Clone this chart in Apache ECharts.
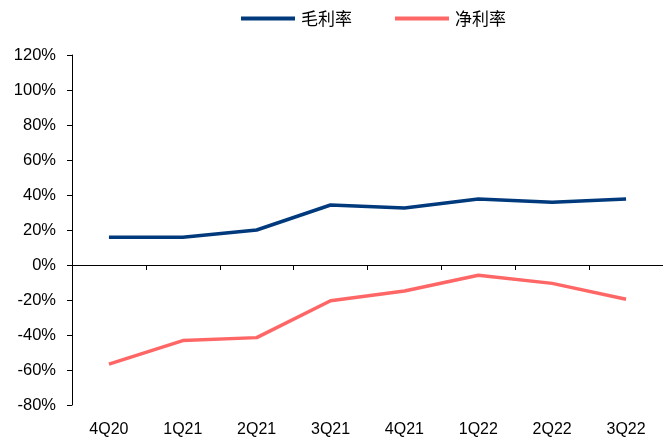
<!DOCTYPE html>
<html><head><meta charset="utf-8">
<script src="https://cdn.jsdelivr.net/npm/echarts@6/dist/echarts.min.js"></script>
<style>html,body{margin:0;padding:0;background:#fff}#c{width:663px;height:441px}</style>
</head><body><div id="c"></div>
<script>
const categories = ['4Q20','1Q21','2Q21','3Q21','4Q21','1Q22','2Q22','3Q22'];
const grossMargin = [15.8, 15.8, 20.0, 34.3, 32.6, 37.7, 35.8, 37.7];
const netMargin = [-56.6, -43.2, -41.5, -20.4, -14.9, -5.9, -10.5, -19.6];
const seriesNames = ['毛利率', '净利率'];

const chart = echarts.init(document.getElementById('c'));
chart.setOption({
  animation: false,
  legend: {
    top: 5, left: 236,
    itemWidth: 54, itemHeight: 4, itemGap: 43,
    icon: 'rect',
    textStyle: { fontFamily: 'Noto Sans CJK SC', fontSize: 17, color: '#000', padding: [0, 0, 0, 1] },
    data: seriesNames
  },
  grid: { left: 72, right: -2, top: 55, bottom: 36, containLabel: false },
  xAxis: [{
    type: 'category', data: categories, boundaryGap: true,
    axisLine: { onZero: true, lineStyle: { color: '#000', width: 1 } },
    axisTick: { show: true, length: 5, lineStyle: { color: '#000' } },
    axisLabel: { show: false }, splitLine: { show: false }
  }, {
    type: 'category', data: categories, position: 'bottom', boundaryGap: true,
    axisLine: { show: false, onZero: false }, axisTick: { show: false },
    axisLabel: { show: true, margin: 17, fontFamily: 'Liberation Sans', fontSize: 16, color: '#000' }
  }],
  yAxis: {
    type: 'value', min: -80, max: 120, interval: 20,
    axisLine: { show: true, lineStyle: { color: '#000' } },
    axisTick: { show: true, length: 5, lineStyle: { color: '#000' } },
    axisLabel: { formatter: '{value}%', margin: 16, fontFamily: 'Liberation Sans', fontSize: 16.5, color: '#000' },
    splitLine: { show: false }
  },
  series: [{
    name: seriesNames[0], type: 'line', data: grossMargin, xAxisIndex: 0,
    symbol: 'none', lineStyle: { color: '#003A7C', width: 3.5 }, itemStyle: { color: '#003A7C' }
  }, {
    name: seriesNames[1], type: 'line', data: netMargin, xAxisIndex: 0,
    symbol: 'none', lineStyle: { color: '#FF6666', width: 3.5 }, itemStyle: { color: '#FF6666' }
  }]
});
</script></body></html>
